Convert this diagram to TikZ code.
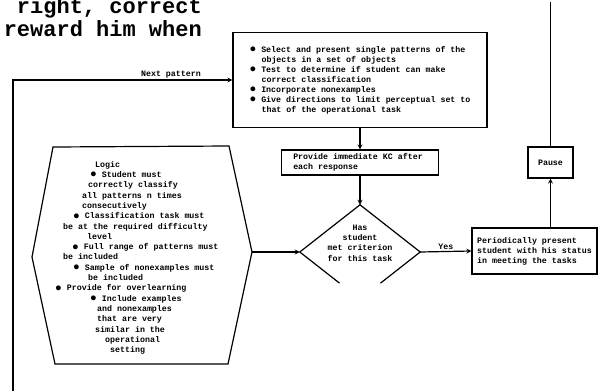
\documentclass[tikz,border=0pt]{standalone}
\usepackage{fontspec}
\newfontfamily\typer{Liberation Mono}
\usetikzlibrary{shapes.geometric,calc}
\newcommand{\blt}{\raisebox{-0.4pt}{\scalebox{1.35}{●}}}

\begin{document}
\begin{tikzpicture}[
  x=1pt, y=-1pt,
  line/.style={line width=1.2pt, draw=black},
  arrow/.style={line width=1.2pt, draw=black, ->, >=stealth},
  box/.style={rectangle, line width=1.2pt, draw=black, align=left, inner sep=0pt,
              font=\typer\bfseries\fontsize{8.3}{10}\selectfont},
  decide/.style={diamond, draw=none, aspect=1.28, minimum width=120pt, minimum height=94pt,
                 inner sep=0pt},
  small/.style={font=\typer\bfseries\fontsize{8.3}{10.3}\selectfont, inner sep=1pt},
  big/.style={font=\typer\bfseries\fontsize{22}{24}\selectfont, inner sep=0pt}
]
  \useasboundingbox[fill=white] (0,0) rectangle (599,391);

  % ===== Typed text above the chart =====
  \node[big, anchor=base east] (note1) at (202,13) {right, correct};
  \node[big, anchor=base east] (note2) at (202,36) {reward him when};

  % ===== Present patterns =====
  \node[box, minimum width=254pt, minimum height=95pt] (pres) at (360,80)
    {\blt{} Select and present single patterns of the\\
     \hspace*{12pt}objects in a set of objects\\
     \blt{} Test to determine if student can make\\
     \hspace*{12pt}correct classification\\
     \blt{} Incorporate nonexamples\\
     \blt{} Give directions to limit perceptual set to\\
     \hspace*{12pt}that of the operational task};

  % ===== Knowledge of results =====
  \node[box, minimum width=157pt, minimum height=25pt] (kc) at (360,162.5)
    {Provide immediate KC after\hspace*{4pt}\\each response};

  % ===== Criterion check =====
  \node[decide] (crit) at (360,252) {};
  \node[small, align=center] (critq) at (360,243) {Has\\student\\met criterion\\for this task};
  \draw[line] ($(crit.west)!0.66!(crit.south)$) -- (crit.west) -- (crit.north)
              -- (crit.east) -- ($(crit.east)!0.66!(crit.south)$);

  % ===== Status report and pause =====
  \node[box, minimum width=125pt, minimum height=46pt] (stat) at (534.5,251)
    {Periodically present\\student with his status\\in meeting the tasks};
  \node[box, minimum width=45pt, minimum height=31pt, align=center] (pause) at (550.5,162.5) {Pause};

  % ===== Logic hexagon =====
  \coordinate (hxA) at (53,147);
  \coordinate (hxB) at (229,146);
  \coordinate (hxR) at (252,252);
  \coordinate (hxC) at (228,364);
  \coordinate (hxD) at (55,364);
  \coordinate (hxL) at (32,257);
  \draw[line] (hxA) -- (hxB) -- (hxR) -- (hxC) -- (hxD) -- (hxL) -- cycle;
  \node[small, anchor=north west, align=left, inner sep=0pt] (logic) at (55,161)
    {\hspace*{40pt}Logic\\
     \hspace*{35pt}\blt{} Student must\\
     \hspace*{33pt}correctly classify\\
     \hspace*{27pt}all patterns n times\\
     \hspace*{27pt}consecutively\\
     \hspace*{18pt}\blt{} Classification task must\\
     \hspace*{8pt}be at the required difficulty\\
     \hspace*{32pt}level\\
     \hspace*{17pt}\blt{} Full range of patterns must\\
     \hspace*{8pt}be included\\
     \hspace*{18pt}\blt{} Sample of nonexamples must\\
     \hspace*{33pt}be included\\
     \blt{} Provide for overlearning\\
     \hspace*{35pt}\blt{} Include examples\\
     \hspace*{42pt}and nonexamples\\
     \hspace*{42pt}that are very\\
     \hspace*{40pt}similar in the\\
     \hspace*{50pt}operational\\
     \hspace*{55pt}setting};

  % ===== Loose ends of the loops =====
  \coordinate (loopin) at (13,391);
  \coordinate (topexit) at (550.5,2);

  % ===== Connectors =====
  \draw[arrow] (loopin) |- node[small, pos=0.86, above] (nextlbl) {Next pattern} (pres.west);
  \draw[arrow] (pres.south) -- (kc.north);
  \draw[arrow] (kc.south) -- (crit.north);
  \draw[arrow] (hxR) -- (crit.west);
  \draw[arrow] (crit.east) -- node[small, above] (yeslbl) {Yes} (stat.west);
  \draw[arrow] (stat.north -| pause.south) -- (pause.south);
  \draw[line] (pause.north) -- (topexit);
\end{tikzpicture}
\end{document}
